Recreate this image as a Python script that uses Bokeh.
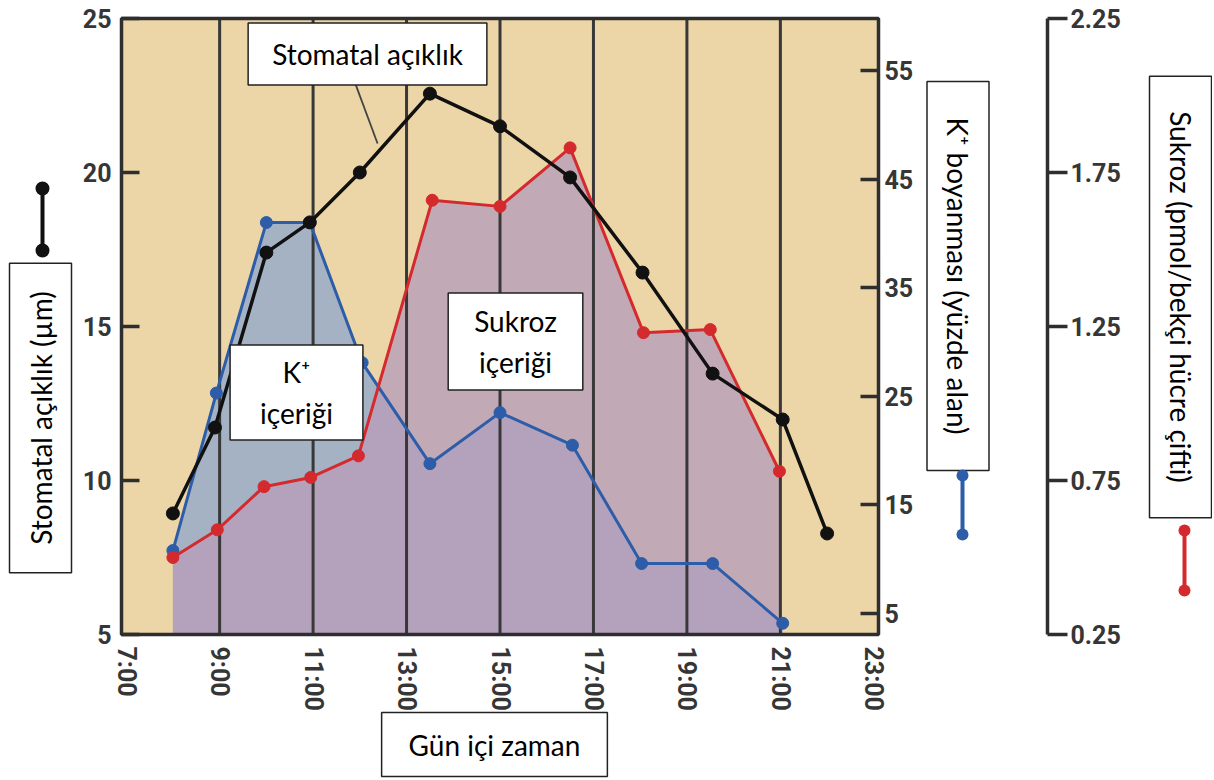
import math
from bokeh.plotting import figure
from bokeh.models import Range1d, LinearAxis, FixedTicker, Label, BoxAnnotation
from bokeh.embed import file_html
from bokeh.resources import INLINE

# ---------------- data ----------------
time_ticks = [7, 9, 11, 13, 15, 17, 19, 21, 23]
time_labels = ["7:00", "9:00", "11:00", "13:00", "15:00", "17:00", "19:00", "21:00", "23:00"]
grid_hours = [9, 11, 13, 15, 17, 19, 21]
aperture_ticks = [5, 10, 15, 20, 25]
k_ticks = [5, 15, 25, 35, 45, 55]
sucrose_ticks = [0.25, 0.75, 1.25, 1.75, 2.25]

aperture_time = [8.0, 8.9, 10.0, 10.93, 12.0, 13.5, 15.0, 16.5, 18.05, 19.55, 21.05, 22.0]
aperture_um = [8.93, 11.72, 17.4, 18.38, 20.0, 22.56, 21.5, 19.84, 16.75, 13.47, 11.98, 8.28]

k_time = [8.0, 8.93, 10.0, 10.93, 12.05, 13.5, 15.0, 16.55, 18.03, 19.55, 21.05]
k_stain = [10.8, 25.3, 41.0, 41.0, 28.1, 18.8, 23.5, 20.5, 9.6, 9.6, 4.1]

sucrose_time = [8.0, 8.95, 9.95, 10.95, 11.97, 13.55, 15.0, 16.5, 18.07, 19.5, 20.98]
sucrose_pmol = [0.50, 0.59, 0.73, 0.76, 0.83, 1.66, 1.64, 1.83, 1.23, 1.24, 0.78]

# axis extents of the plotting area
X_LO, X_HI = 6.9, 23.1
A_LO, A_HI = 5.0, 25.0
K_LO, K_HI = 3.07, 59.79
S_LO, S_HI = 0.25, 2.25

# ---------------- layout (canvas pixels) ----------------
W, H = 1212, 778
FL, FR, FT, FB = 121, 878, 18, 634     # plotting area
SUC_AXIS_PX = 1047                     # x position of the sucrose axis line

TICK_FONT = "Roboto"
TICK_COLOR = "#363636"
LABEL_FONT = "Lato"
DARK = "#2E2E2E"


def full_range(lo, hi, p_lo, p_hi, total):
    k = (hi - lo) / (p_hi - p_lo)
    return Range1d(lo - p_lo * k, hi + (total - p_hi) * k)


x_range = full_range(X_LO, X_HI, FL, FR, W)
y_range = full_range(A_LO, A_HI, H - FB, H - FT, H)
k_range = full_range(K_LO, K_HI, H - FB, H - FT, H)
s_range = full_range(S_LO, S_HI, H - FB, H - FT, H)


def x_at(px):
    return X_LO + (px - FL) * (X_HI - X_LO) / (FR - FL)


p = figure(width=W, height=H, x_range=x_range, y_range=y_range,
           output_backend="svg", toolbar_location=None,
           x_axis_location=None, y_axis_location=None,
           min_border=0, min_border_left=0, min_border_right=0,
           min_border_top=0, min_border_bottom=0,
           background_fill_color="white", border_fill_color="white",
           outline_line_color=None)
p.extra_y_ranges = {"k": k_range, "suc": s_range}
p.grid.visible = False

# plotting-area background
p.add_layout(BoxAnnotation(left=X_LO, right=X_HI, bottom=A_LO, top=A_HI,
                           fill_color="#ECD5A7", fill_alpha=1.0, line_color=None,
                           level="underlay"))


def style_axis(ax):
    ax.major_label_text_font = TICK_FONT
    ax.major_label_text_font_style = "bold"
    ax.major_label_text_font_size = "25px"
    ax.major_label_text_color = TICK_COLOR
    ax.minor_tick_line_color = None
    ax.major_tick_line_color = DARK
    ax.major_tick_line_width = 3.5
    ax.axis_line_color = None


# left axis
ya = LinearAxis(fixed_location=X_LO, bounds=(A_LO, A_HI),
                ticker=FixedTicker(ticks=aperture_ticks))
style_axis(ya)
ya.major_tick_in = 18
ya.major_tick_out = 0
ya.major_label_standoff = 10
p.add_layout(ya, "left")

# bottom axis
xa = LinearAxis(fixed_location=A_LO, bounds=(X_LO, X_HI),
                ticker=FixedTicker(ticks=time_ticks))
xa.major_label_overrides = {t: l for t, l in zip(time_ticks, time_labels)}
style_axis(xa)
xa.major_tick_in = 0
xa.major_tick_out = 0
xa.major_label_orientation = "vertical"
xa.major_label_standoff = 12
p.add_layout(xa, "below")

# K+ axis
ka = LinearAxis(y_range_name="k", fixed_location=X_HI, bounds=(K_LO, K_HI),
                ticker=FixedTicker(ticks=k_ticks))
style_axis(ka)
ka.major_tick_in = 18
ka.major_tick_out = 0
ka.major_label_standoff = 6
p.add_layout(ka, "right")

# sucrose axis
sa = LinearAxis(y_range_name="suc", fixed_location=x_at(SUC_AXIS_PX), bounds=(S_LO, S_HI),
                ticker=FixedTicker(ticks=sucrose_ticks))
style_axis(sa)
sa.axis_line_color = DARK
sa.axis_line_width = 3.5
sa.major_tick_in = 0
sa.major_tick_out = 20
sa.major_label_standoff = 3
p.add_layout(sa, "right")

# ---------------- glyphs ----------------
BLUE = "#2D5DA8"
RED = "#D42A2E"
BLACK = "#111111"

p.varea(x=k_time, y1=[K_LO] * len(k_time), y2=k_stain,
        y_range_name="k", fill_color="#A4B2C4", fill_alpha=1.0)
p.varea(x=sucrose_time, y1=[S_LO] * len(sucrose_time), y2=sucrose_pmol,
        y_range_name="suc", fill_color="#B89EBA", fill_alpha=0.8)

# vertical hour lines
p.segment(x0=grid_hours, y0=[A_LO] * len(grid_hours), x1=grid_hours, y1=[A_HI] * len(grid_hours),
          line_color="#383838", line_width=3)

p.line(k_time, k_stain, y_range_name="k", line_color=BLUE, line_width=3)
p.scatter(k_time, k_stain, y_range_name="k", size=12, color=BLUE)

p.line(sucrose_time, sucrose_pmol, y_range_name="suc", line_color=RED, line_width=3)
p.scatter(sucrose_time, sucrose_pmol, y_range_name="suc", size=12, color=RED)

p.line(aperture_time, aperture_um, line_color=BLACK, line_width=3.5)
p.scatter(aperture_time, aperture_um, size=13, color=BLACK)

# leader line for the "Stomatal açıklık" callout
leader_x = [11.91, 12.38]
leader_y = [22.86, 20.94]
p.segment(x0=leader_x[0], y0=leader_y[0], x1=leader_x[1], y1=leader_y[1],
          line_color="#444444", line_width=1.8)

# frame border of the plotting area
p.add_layout(BoxAnnotation(left=X_LO, right=X_HI, bottom=A_LO, top=A_HI,
                           fill_color=None, fill_alpha=0.0,
                           line_color=DARK, line_alpha=1.0, line_width=3.5,
                           level="annotation"))


# ---------------- boxed texts ----------------
def boxed(text, cx, cy, angle, pad_x, pad_y):
    p.add_layout(Label(x=cx, y=H - cy, x_units="screen", y_units="screen",
                       text=text, text_font=LABEL_FONT, text_font_size="28px",
                       text_color="black", text_align="center", text_baseline="middle",
                       text_line_height=1.2,
                       angle=angle, angle_units="rad",
                       background_fill_color="white", background_fill_alpha=1.0,
                       border_line_color="#222222", border_line_width=1.5,
                       padding=(int(pad_x), int(pad_y))))


boxed("Stomatal açıklık", 367, 53.5, 0, 24, 14)
boxed("K\u207a\niçeriği", 296, 392, 0, 30, 10)
boxed("Sukroz\niçeriği", 515, 341, 0, 26, 11)
boxed("Gün içi zaman", 494, 744, 0, 27, 15)
boxed("Stomatal açıklık (µm)", 40, 417.5, math.pi / 2, 28, 14)
boxed("K\u207a boyanması (yüzde alan)", 957.5, 275.5, -math.pi / 2, 36, 14)
boxed("Sukroz (pmol/bekçi hücre çifti)", 1180, 296.5, -math.pi / 2, 35, 14)


# ---------------- scale-bar symbols ----------------
def scale_bar(cx, top, bottom, color, r=6, w=4):
    def box(l, r_, t, b, radius=0):
        p.add_layout(BoxAnnotation(left=l, right=r_, top=H - t, bottom=H - b,
                                   left_units="screen", right_units="screen",
                                   top_units="screen", bottom_units="screen",
                                   fill_color=color, fill_alpha=1.0, line_color=None,
                                   border_radius=int(radius), level="annotation"))
    box(cx - w / 2, cx + w / 2, top, bottom)
    box(cx - r, cx + r, top - r, top + r, r)
    box(cx - r, cx + r, bottom - r, bottom + r, r)


scale_bar(42, 188, 250, BLACK, r=7)
scale_bar(962, 475, 534, BLUE)
scale_bar(1184, 530, 590, RED)

open("out.html", "w").write(file_html(p, INLINE))
